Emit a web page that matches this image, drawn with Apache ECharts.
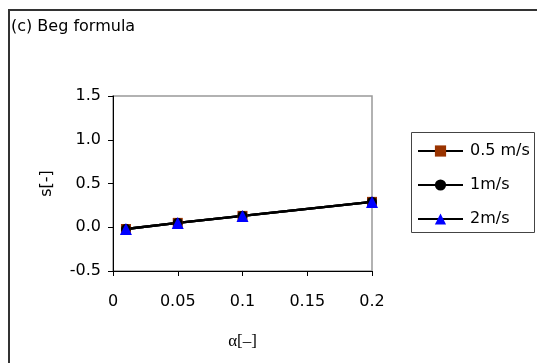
<!DOCTYPE html>
<html><head><meta charset="utf-8">
<script src="https://cdn.jsdelivr.net/npm/echarts@6/dist/echarts.min.js"></script>
<style>html,body{margin:0;padding:0;background:#fff;}#c{width:537px;height:363px;}</style>
</head><body><div id="c"></div>
<script>
var alphaValues = [0.01, 0.05, 0.1, 0.2];
var s05 = [-0.02, 0.05, 0.13, 0.29];
var s1 = [-0.02, 0.05, 0.13, 0.29];
var s2 = [-0.02, 0.05, 0.13, 0.29];
var seriesNames = ['0.5 m/s', '1m/s', '2m/s'];
var titleText = '(c) Beg formula';
var xName = 'α[–]';
var yName = 's[-]';

var FONT = 'DejaVu Sans';
function pairs(vals){ return alphaValues.map(function(a,i){ return [a, vals[i]]; }); }

var chart = echarts.init(document.getElementById('c'), null, {renderer:'canvas'});
chart.setOption({
  animation: false,
  backgroundColor: '#ffffff',
  textStyle: {fontFamily: FONT},
  title: {text: titleText, left: 6, top: 14, textStyle: {fontFamily: FONT, fontSize: 16, fontWeight: 'normal', color: '#000'}},
  graphic: [
    {type: 'rect', shape: {x: 9, y: 10, width: 540, height: 360}, style: {fill: 'none', stroke: '#333', lineWidth: 2}, z: -1},
    {type: 'rect', shape: {x: 411.5, y: 132.5, width: 123, height: 100}, style: {fill: 'none', stroke: '#444', lineWidth: 1}, z: -1}
  ],
  grid: {left: 113, top: 96, right: 165, bottom: 92, show: true, borderColor: '#999', borderWidth: 1.5, backgroundColor: 'transparent'},
  legend: {
    orient: 'vertical', left: 412, top: 138, itemWidth: 45, itemHeight: 14, itemGap: 18,
    textStyle: {fontFamily: FONT, fontSize: 16, color: '#000', padding: [0,0,0,2]},
    data: seriesNames
  },
  xAxis: {
    type: 'value', min: 0, max: 0.2, interval: 0.05,
    name: xName, nameLocation: 'middle', nameGap: 62,
    nameTextStyle: {fontFamily: 'Liberation Serif', fontSize: 17, color: '#000'},
    axisLine: {show: true, onZero: false, lineStyle: {color: '#000', width: 1}},
    axisTick: {show: true, length: 5, lineStyle: {color: '#000'}},
    axisLabel: {fontFamily: FONT, fontSize: 16, color: '#000', margin: 23},
    splitLine: {show: false}
  },
  yAxis: {
    type: 'value', min: -0.5, max: 1.5, interval: 0.5,
    name: yName, nameLocation: 'middle', nameGap: 58,
    nameTextStyle: {fontFamily: FONT, fontSize: 16, color: '#000'},
    axisLine: {show: true, onZero: false, lineStyle: {color: '#000', width: 1}},
    axisTick: {show: true, length: 5, lineStyle: {color: '#000'}},
    axisLabel: {fontFamily: FONT, fontSize: 16, color: '#000', margin: 12, formatter: function(v){ return v.toFixed(1); }},
    splitLine: {show: false}
  },
  series: [
    {name: seriesNames[0], type: 'line', data: pairs(s05), symbol: 'rect', symbolSize: 10,
     itemStyle: {color: '#993300'}, lineStyle: {color: '#000', width: 2.5}},
    {name: seriesNames[1], type: 'line', data: pairs(s1), symbol: 'circle', symbolSize: 10,
     itemStyle: {color: '#000'}, lineStyle: {color: '#000', width: 2.5}},
    {name: seriesNames[2], type: 'line', data: pairs(s2), symbol: 'triangle', symbolSize: 12,
     itemStyle: {color: '#0000ff'}, lineStyle: {color: '#000', width: 2.5}}
  ]
});
</script></body></html>
